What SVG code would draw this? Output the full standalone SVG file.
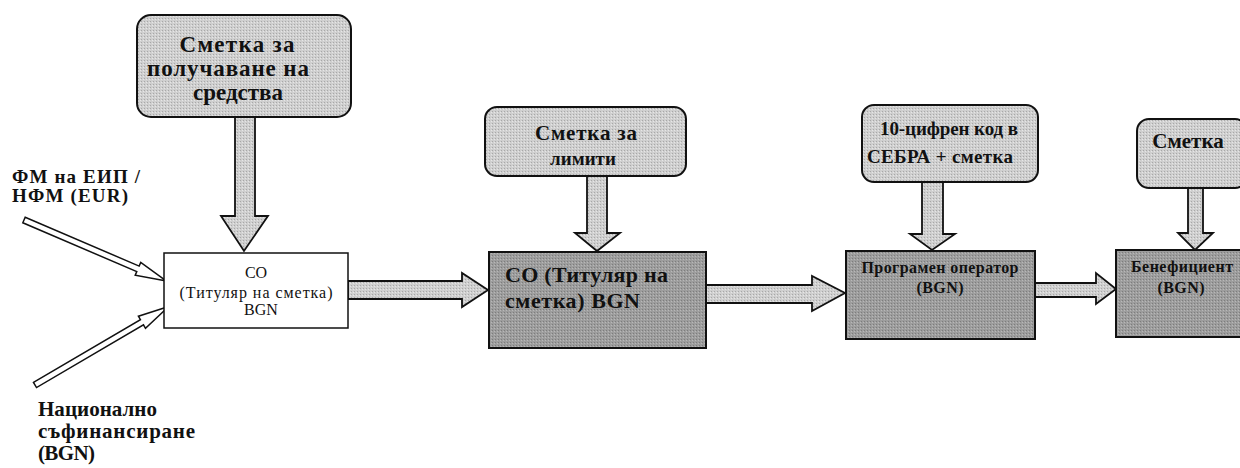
<svg xmlns="http://www.w3.org/2000/svg" width="1240" height="468" viewBox="0 0 1240 468">
<defs>
<pattern id="stL" width="3" height="3" patternUnits="userSpaceOnUse"><rect width="3" height="3" fill="#cfcfcf"/><rect width="1" height="1" fill="#a8a8a8"/><rect x="2" y="1" width="1" height="1" fill="#e6e6e6"/></pattern>
<pattern id="stD" width="3" height="3" patternUnits="userSpaceOnUse"><rect width="3" height="3" fill="#9d9d9d"/><rect width="1" height="1" fill="#7d7d7d"/><rect x="2" y="1" width="1" height="1" fill="#b8b8b8"/></pattern>
</defs>
<style>
.top{fill:url(#stL);stroke:#111;stroke-width:2}
.main{fill:url(#stD);stroke:#111;stroke-width:2}
.white{fill:#fff;stroke:#111;stroke-width:1.5}
.arr{fill:url(#stL);stroke:#111;stroke-width:1.8;stroke-linejoin:miter}
.hol{fill:#fff;stroke:#111;stroke-width:1.5}
text{font-family:"Liberation Serif","DejaVu Serif",serif;fill:#111}
.tb{font-weight:bold;font-size:23px;text-anchor:middle}
.tb2{font-weight:bold;font-size:21px;text-anchor:middle}
.tb3{font-weight:bold;font-size:19px;text-anchor:middle}
.lb{font-weight:bold;font-size:19px}
.lb2{font-weight:bold;font-size:21px}
.sm{font-size:16px;text-anchor:middle}
.smb{font-size:16px;font-weight:bold;text-anchor:middle}
.mid{font-size:22px;font-weight:bold}
</style>
<g id="connectors">
<polygon class="arr" points="235,117 255,117 255,216 268,216 244,251 221,216 235,216"/>
<polygon class="arr" points="348,281 462,281 462,273 488,290 462,307 462,299 348,299"/>
<polygon class="arr" points="587,176 607,176 607,233 620,233 597,251 575,233 587,233"/>
<polygon class="arr" points="706,285 812,285 812,276 845,293 812,311 812,303 706,303"/>
<polygon class="arr" points="922,182 943,182 943,234 955,234 932,250 910,234 922,234"/>
<polygon class="arr" points="1035,283 1096,283 1096,273 1116,289 1096,304 1096,297 1035,297"/>
<polygon class="arr" points="1188,188 1203,188 1203,233 1213,233 1195,250 1178,233 1188,233"/>
<polygon class="hol" transform="translate(24,220) rotate(23.2)" points="0,-3 124,-3 124,-7 155,0 124,7 124,3 0,3"/>
<polygon class="hol" transform="translate(35,385) rotate(-30.4)" points="0,-3 124,-3 124,-7 155,0 124,7 124,3 0,3"/>
</g>
<g id="src-funds">
<rect class="top" x="137" y="15" width="214" height="102" rx="14"/>
<text class="tb" x="237" y="52" textLength="115" lengthAdjust="spacing">Сметка за</text>
<text class="tb" x="228" y="76" textLength="162" lengthAdjust="spacing">получаване на</text>
<text class="tb" x="238" y="100" textLength="90" lengthAdjust="spacing">средства</text>
</g>
<g id="lbl-fm">
<text class="lb" x="12" y="183" textLength="128" lengthAdjust="spacing">ФМ на ЕИП /</text>
<text class="lb" x="12" y="202" textLength="116" lengthAdjust="spacing">НФМ (EUR)</text>
</g>
<g id="lbl-nat">
<text class="lb2" x="38" y="416" textLength="119" lengthAdjust="spacing">Национално</text>
<text class="lb2" x="38" y="438" textLength="157" lengthAdjust="spacing">съфинансиране</text>
<text class="lb2" x="38" y="460" textLength="57" lengthAdjust="spacing">(BGN)</text>
</g>
<g id="co-eur">
<rect class="white" x="164" y="253" width="184" height="75"/>
<text class="sm" x="256" y="278">CO</text>
<text class="sm" x="256" y="298" textLength="153" lengthAdjust="spacing">(Титуляр на сметка)</text>
<text class="sm" x="261" y="315">BGN</text>
</g>
<g id="limits">
<rect class="top" x="485" y="107" width="201" height="69" rx="12"/>
<text class="tb2" x="586" y="140" textLength="102" lengthAdjust="spacing">Сметка за</text>
<text class="tb3" x="583" y="165">лимити</text>
</g>
<g id="co-bgn">
<rect class="main" x="489" y="252" width="217" height="96"/>
<text class="mid" x="505" y="282" textLength="163" lengthAdjust="spacing">CO (Титуляр на</text>
<text class="mid" x="505" y="308" textLength="135" lengthAdjust="spacing">сметка) BGN</text>
</g>
<g id="sebra">
<rect class="top" x="862" y="105" width="176" height="77" rx="12"/>
<text class="tb3" x="949" y="135" textLength="138" lengthAdjust="spacing">10-цифрен код в</text>
<text class="tb3" x="940" y="163" textLength="146" lengthAdjust="spacing">СЕБРА + сметка</text>
</g>
<g id="operator">
<rect class="main" x="846" y="251" width="189" height="88"/>
<text class="smb" x="940" y="273" textLength="157" lengthAdjust="spacing">Програмен оператор</text>
<text class="smb" x="940" y="293" textLength="47" lengthAdjust="spacing">(BGN)</text>
</g>
<g id="account">
<rect class="top" x="1137" y="119" width="110" height="69" rx="12"/>
<text class="tb2" x="1188" y="148">Сметка</text>
</g>
<g id="beneficiary">
<rect class="main" x="1116" y="250" width="130" height="87"/>
<text class="smb" x="1182" y="272" textLength="102" lengthAdjust="spacing">Бенефициент</text>
<text class="smb" x="1181" y="293" textLength="47" lengthAdjust="spacing">(BGN)</text>
</g>
</svg>
